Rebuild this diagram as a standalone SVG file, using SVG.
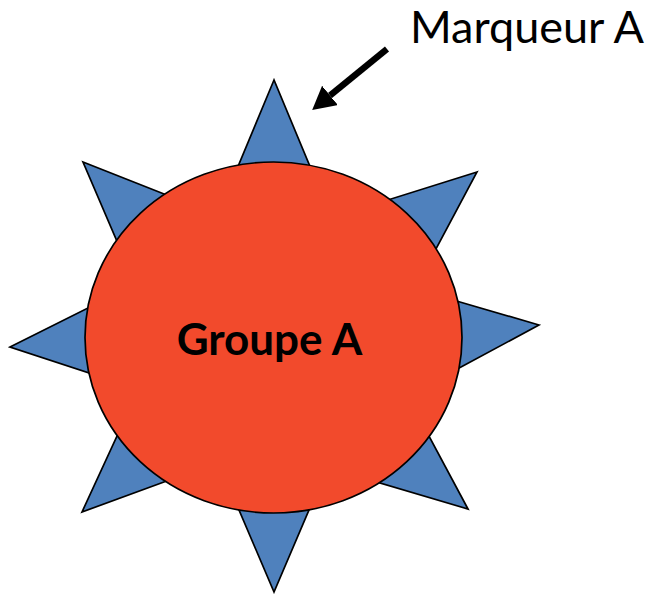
<svg xmlns="http://www.w3.org/2000/svg" width="650" height="594" viewBox="0 0 650 594">
<style>
.spike{fill:#4F81BD;stroke:#000;stroke-width:1.7;stroke-linejoin:miter}
.body{fill:#F24A2C;stroke:#000;stroke-width:1.7}
.lbl{font-family:Lato,"Liberation Sans",sans-serif;fill:#000}
.conn{stroke:#000;stroke-width:6.5;fill:none}
</style>
<defs>
<marker id="ah" markerUnits="userSpaceOnUse" markerWidth="24" markerHeight="26" refX="0" refY="12.5" orient="auto">
<path d="M0,0 L23,12.5 L0,25 z" fill="#000"/>
</marker>
</defs>
<g id="groupe-a">
<g id="spikes">
<polygon class="spike" points="274,80 225,197.6 323,197.6"/>
<polygon class="spike" points="477,172 356.6,209.8 421,277"/>
<polygon class="spike" points="539,325 428.4,292.8 429.8,383.8"/>
<polygon class="spike" points="468,509 414.8,409.6 344.8,472.6"/>
<polygon class="spike" points="274,592 225,477.2 323,477.2"/>
<polygon class="spike" points="82,512 131,405.6 196.8,470"/>
<polygon class="spike" points="10,347 116.4,293.8 120.6,383.4"/>
<polygon class="spike" points="83,162 196.4,206.8 129.2,269.8"/>
</g>
<ellipse class="body" cx="273.5" cy="337.5" rx="188.5" ry="175.5"/>
<text class="lbl" x="269.5" y="355" font-size="44" font-weight="bold" text-anchor="middle">Groupe A</text>
</g>
<g id="marqueur-a">
<text class="lbl" x="410" y="43" font-size="45">Marqueur A</text>
</g>
<g id="connectors">
<line class="conn" x1="387" y1="49" x2="330" y2="95.5" marker-end="url(#ah)"/>
</g>
</svg>
